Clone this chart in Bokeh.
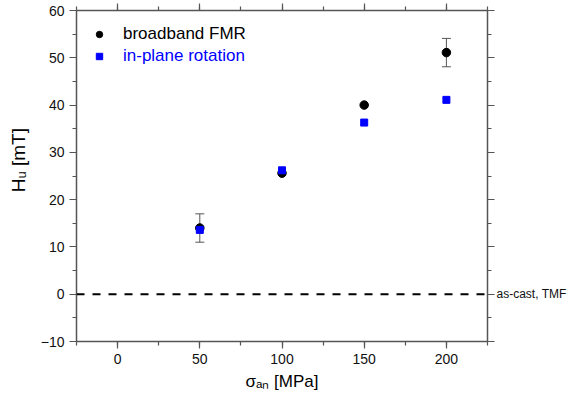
from bokeh.plotting import figure
from bokeh.models import (ColumnDataSource, Whisker, Span, Legend, LegendItem,
                          LinearAxis, SingleIntervalTicker, Range1d, TeeHead)
from bokeh.embed import file_html
from bokeh.resources import INLINE

# ---- data ----
stress_mpa = [50, 100, 150, 200]
fmr_hu = [14.0, 25.6, 40.0, 51.1]
fmr_err = [3.0, 0.0, 0.0, 3.0]
rot_hu = [13.6, 26.2, 36.3, 41.1]
ascast_hu = 0.0
ascast_label = "as-cast, TMF"
series_names = ["broadband FMR", "in-plane rotation"]
x_title = "σₐₙ [MPa]"
y_title = "Hᵤ [mT]"

FONT = "Liberation Sans"
AX = "#555555"

p = figure(width=569, height=398, x_range=Range1d(-25, 225), y_range=Range1d(-10, 60),
           output_backend="svg", toolbar_location=None,
           min_border_left=76, min_border_right=80, min_border_top=10, min_border_bottom=57)
p.outline_line_color = None
p.xgrid.visible = False
p.ygrid.visible = False
p.background_fill_color = "white"
p.border_fill_color = "white"

xt = SingleIntervalTicker(interval=50, num_minor_ticks=2)
yt = SingleIntervalTicker(interval=10, num_minor_ticks=2)

def style(ax, ticker, tick_out, minor_out):
    ax.ticker = ticker
    ax.axis_line_color = AX
    ax.axis_line_width = 1.5
    ax.major_tick_line_color = AX
    ax.minor_tick_line_color = AX
    ax.major_tick_line_width = 1.2
    ax.minor_tick_line_width = 1.2
    ax.major_tick_in = 0
    ax.minor_tick_in = 0
    ax.major_tick_out = tick_out
    ax.minor_tick_out = minor_out
    ax.major_label_text_font = FONT
    ax.major_label_text_font_size = "14px"
    ax.major_label_text_color = "#111111"
    ax.axis_label_text_font = FONT
    ax.axis_label_text_font_style = "normal"
    ax.axis_label_text_color = "black"

bottom = p.below[0]
left = p.left[0]
style(bottom, xt, 7, 4)
style(left, yt, 7, 4)
bottom.major_label_standoff = 5
left.major_label_standoff = 5
bottom.axis_label = x_title
bottom.axis_label_text_font_size = "17px"
bottom.axis_label_standoff = 5
# leading no-break spaces lift the rotated title a little, as in the reference
left.axis_label = "\u00a0" * 6 + y_title
left.axis_label_text_font_size = "19px"
left.axis_label_standoff = 9

top = LinearAxis()
style(top, xt, 7, 4)
top.major_label_overrides = {v: "" for v in range(-100, 350, 50)}
top.major_label_standoff = 0
right = LinearAxis()
style(right, yt, 7, 4)
right_over = {v: "" for v in range(-30, 90, 10)}
right_over[int(ascast_hu)] = ascast_label
right.major_label_overrides = right_over
right.major_label_standoff = 2
right.major_label_text_font_size = "12px"
p.add_layout(top, "above")
p.add_layout(right, "right")

# reference line (as-cast state)
p.add_layout(Span(location=ascast_hu, dimension="width", line_color="black",
                  line_width=2, line_dash="8 8"))

# error bars
ex = [x for x, e in zip(stress_mpa, fmr_err) if e > 0]
ey = [y for y, e in zip(fmr_hu, fmr_err) if e > 0]
ee = [e for e in fmr_err if e > 0]
err_src = ColumnDataSource(dict(x=ex, lo=[y - e for y, e in zip(ey, ee)],
                                hi=[y + e for y, e in zip(ey, ee)]))
w = Whisker(source=err_src, base="x", lower="lo", upper="hi", level="underlay",
            line_color="#555555", line_width=1,
            upper_head=TeeHead(size=9, line_color="#555555", line_width=1),
            lower_head=TeeHead(size=9, line_color="#555555", line_width=1))
p.add_layout(w)

src = ColumnDataSource(dict(x=stress_mpa, fmr=fmr_hu, rot=rot_hu))
r1 = p.scatter("x", "fmr", source=src, marker="circle", size=8.5,
               fill_color="black", line_color="black")
r2 = p.scatter("x", "rot", source=src, marker="square", size=7,
               fill_color="#0000ff", line_color="#0000ff")

def make_legend(item, color, loc):
    return Legend(items=[item], location=loc, margin=0, padding=0,
                  glyph_width=16, glyph_height=16, label_height=16,
                  label_standoff=16, spacing=6,
                  label_text_font=FONT, label_text_font_size="17px",
                  label_text_color=color,
                  background_fill_alpha=0, border_line_color=None)

p.add_layout(make_legend(LegendItem(label=series_names[0], renderers=[r1]), "black", (15, 297)))
p.add_layout(make_legend(LegendItem(label=series_names[1], renderers=[r2]), "#0000ff", (15, 275)))

open("out.html", "w").write(file_html(p, INLINE))
